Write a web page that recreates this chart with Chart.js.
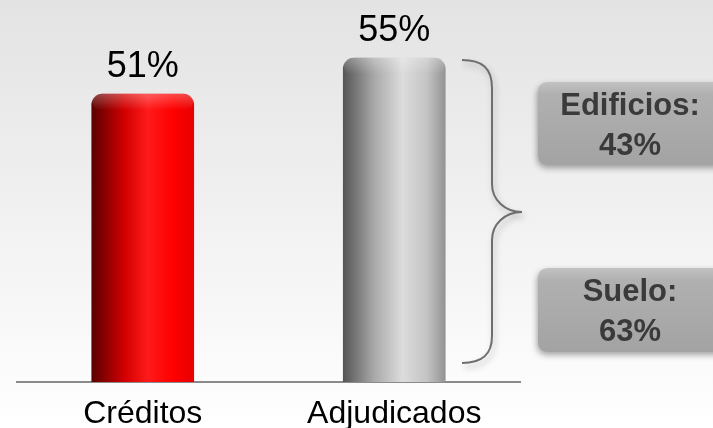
<!DOCTYPE html>
<html>
<head>
<meta charset="utf-8">
<script src="https://cdn.jsdelivr.net/npm/chart.js@4"></script>
<style>
  html, body { margin: 0; padding: 0; background: #fff; }
  #wrap { width: 713px; height: 428px; position: relative; }
</style>
</head>
<body>
<div id="wrap"><canvas id="adjudicados"></canvas></div>
<script>
const categories = ['Créditos', 'Adjudicados'];
const coverage = [51, 55];
const breakdownLabels = ['Edificios:', 'Suelo:'];
const breakdownValues = [43, 63];

const FONT = "'Liberation Sans', Arial, Helvetica, sans-serif";

// colour stops for the cylinder look, left to right
const barStops = [
  [[0, '#5a0000'], [0.32, '#d20000'], [0.55, '#ff1a1a'], [0.8, '#ff0000'], [1, '#e80000']],
  [[0, '#555555'], [0.3, '#a8a8a8'], [0.58, '#dcdcdc'], [0.82, '#c4c4c4'], [1, '#939393']]
];

function cylinder(c) {
  const chart = c.chart;
  const xs = chart.scales.x;
  if (!xs || !chart.chartArea) return barStops[c.dataIndex][2][1];
  const cx = xs.getPixelForValue(c.dataIndex);
  const g = chart.ctx.createLinearGradient(cx - 51, 0, cx + 51, 0);
  barStops[c.dataIndex].forEach(([o, col]) => g.addColorStop(o, col));
  return g;
}

function roundRect(ctx, x, y, w, h, r) {
  ctx.beginPath();
  ctx.moveTo(x + r, y);
  ctx.lineTo(x + w - r, y);
  ctx.quadraticCurveTo(x + w, y, x + w, y + r);
  ctx.lineTo(x + w, y + h - r);
  ctx.quadraticCurveTo(x + w, y + h, x + w - r, y + h);
  ctx.lineTo(x + r, y + h);
  ctx.quadraticCurveTo(x, y + h, x, y + h - r);
  ctx.lineTo(x, y + r);
  ctx.quadraticCurveTo(x, y, x + r, y);
  ctx.closePath();
}

const backdrop = {
  id: 'backdrop',
  beforeDraw(chart) {
    const { ctx, width, height } = chart;
    const g = ctx.createLinearGradient(0, 0, 0, height);
    g.addColorStop(0, '#e3e3e3');
    g.addColorStop(1, '#ffffff');
    ctx.save();
    ctx.fillStyle = g;
    ctx.fillRect(0, 0, width, height);
    ctx.restore();
  }
};

// soft highlight on the rounded top of each bar, then the value on top
const barTops = {
  id: 'barTops',
  afterDatasetsDraw(chart) {
    const { ctx } = chart;
    const meta = chart.getDatasetMeta(0);
    meta.data.forEach((bar, i) => {
      const left = bar.x - bar.width / 2;
      ctx.save();
      const hl = ctx.createLinearGradient(0, bar.y, 0, bar.y + 16);
      hl.addColorStop(0, 'rgba(255,255,255,0.28)');
      hl.addColorStop(1, 'rgba(255,255,255,0)');
      ctx.fillStyle = hl;
      roundRect(ctx, left, bar.y, bar.width, 16, 10);
      ctx.fill();
      ctx.restore();

      ctx.save();
      ctx.fillStyle = '#000';
      ctx.font = '36px ' + FONT;
      ctx.textAlign = 'center';
      ctx.textBaseline = 'alphabetic';
      ctx.fillText(coverage[i] + '%', bar.x, bar.y - 17);
      ctx.restore();
    });
  }
};

// brace next to the second bar and the two breakdown boxes
const breakdown = {
  id: 'breakdown',
  afterDraw(chart) {
    const { ctx } = chart;
    ctx.save();
    ctx.shadowColor = 'rgba(0,0,0,0.25)';
    ctx.shadowBlur = 6;
    ctx.shadowOffsetX = 2;
    ctx.shadowOffsetY = 4;
    ctx.strokeStyle = '#6e6e6e';
    ctx.lineWidth = 2;
    ctx.beginPath();
    ctx.moveTo(462, 60);
    ctx.bezierCurveTo(482, 60, 492, 68, 492, 88);
    ctx.lineTo(492, 184);
    ctx.bezierCurveTo(492, 200, 505, 212, 522, 212);
    ctx.bezierCurveTo(505, 212, 492, 224, 492, 240);
    ctx.lineTo(492, 336);
    ctx.bezierCurveTo(492, 355, 482, 363, 462, 363);
    ctx.stroke();
    ctx.restore();

    const boxes = [{ y: 82, h: 83 }, { y: 268, h: 84 }];
    boxes.forEach((b, i) => {
      ctx.save();
      ctx.shadowColor = 'rgba(0,0,0,0.35)';
      ctx.shadowBlur = 6;
      ctx.shadowOffsetX = -1;
      ctx.shadowOffsetY = 3;
      const g = ctx.createLinearGradient(0, b.y, 0, b.y + b.h);
      g.addColorStop(0, '#c2c2c2');
      g.addColorStop(0.15, '#b0b0b0');
      g.addColorStop(1, '#a3a3a3');
      ctx.fillStyle = g;
      roundRect(ctx, 538, b.y, 190, b.h, 11);
      ctx.fill();
      ctx.restore();

      ctx.save();
      ctx.fillStyle = '#3a3a3a';
      ctx.font = 'bold 31px ' + FONT;
      ctx.textAlign = 'center';
      ctx.textBaseline = 'alphabetic';
      const cy = b.y + b.h / 2;
      ctx.fillText(breakdownLabels[i], 630, cy - 9);
      ctx.fillText(breakdownValues[i] + '%', 630, cy + 31);
      ctx.restore();
    });
  }
};

new Chart(document.getElementById('adjudicados'), {
  type: 'bar',
  data: {
    labels: categories,
    datasets: [{
      data: coverage,
      backgroundColor: cylinder,
      borderWidth: 0,
      borderRadius: { topLeft: 11, topRight: 11, bottomLeft: 0, bottomRight: 0 },
      borderSkipped: 'start',
      barThickness: 102
    }]
  },
  options: {
    responsive: true,
    maintainAspectRatio: false,
    animation: false,
    layout: { padding: { left: 17, right: 193, top: 13, bottom: 0 } },
    plugins: {
      legend: { display: false },
      tooltip: { enabled: false }
    },
    scales: {
      x: {
        grid: { display: false },
        border: { display: true, color: '#8a8a8a', width: 2 },
        ticks: { color: '#000', padding: 5, font: { family: FONT, size: 32 } },
        afterFit(scale) { scale.height = 46; }
      },
      y: {
        display: false,
        min: 19,
        max: 60
      }
    }
  },
  plugins: [backdrop, barTops, breakdown]
});
</script>
</body>
</html>
